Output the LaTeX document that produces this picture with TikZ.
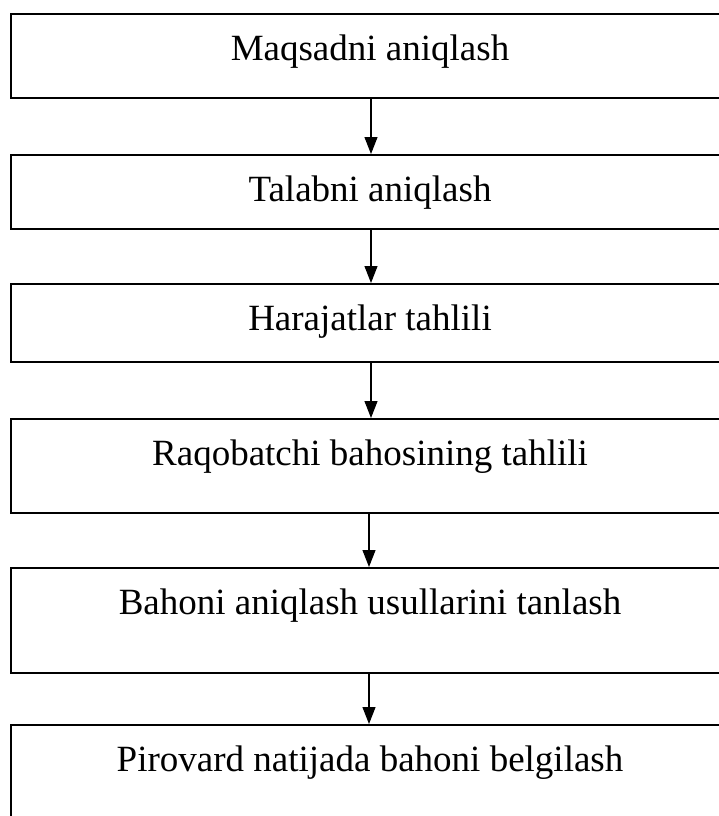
\documentclass[tikz,border=0pt]{standalone}
\usepackage{fontspec}
\setmainfont{Liberation Serif}
\usetikzlibrary{arrows.meta}

\begin{document}
\begin{tikzpicture}[x=1pt,y=-1pt,
	stage/.style={draw=black,line width=1.6pt,minimum width=718pt,inner xsep=0pt,inner ysep=0pt,
		text height=46.5pt,anchor=north,font=\fontsize{37}{40}\selectfont},
	flow/.style={black,line width=1.1pt,-{Triangle[length=17pt,width=13pt]}}]
		\useasboundingbox (0,0) rectangle (719,816);
		\node [stage,text depth=37.5pt] (goal) at (370,13) {Maqsadni aniqlash};
		\node [stage,text depth=27.5pt] (demand) at (370,154) {Talabni aniqlash};
		\node [stage,text depth=31.5pt] (costs) at (370,283) {Harajatlar tahlili};
		\node [stage,text depth=47.5pt] (rivals) at (370,418) {Raqobatchi bahosining tahlili};
		\node [stage,text depth=58.5pt] (method) at (370,567) {Bahoni aniqlash usullarini tanlash};
		\node [stage,text depth=63.5pt] (final) at (370,724) {Pirovard natijada bahoni belgilash};
%		arrows between the stages
		\draw [flow] ([xshift=1pt]goal.south) -- ([xshift=1pt]demand.north);
		\draw [flow] ([xshift=1pt]demand.south) -- ([xshift=1pt]costs.north);
		\draw [flow] ([xshift=1pt]costs.south) -- ([xshift=1pt]rivals.north);
		\draw [flow] ([xshift=-1pt]rivals.south) -- ([xshift=-1pt]method.north);
		\draw [flow] ([xshift=-1pt]method.south) -- ([xshift=-1pt]final.north);
\end{tikzpicture}
\end{document}
